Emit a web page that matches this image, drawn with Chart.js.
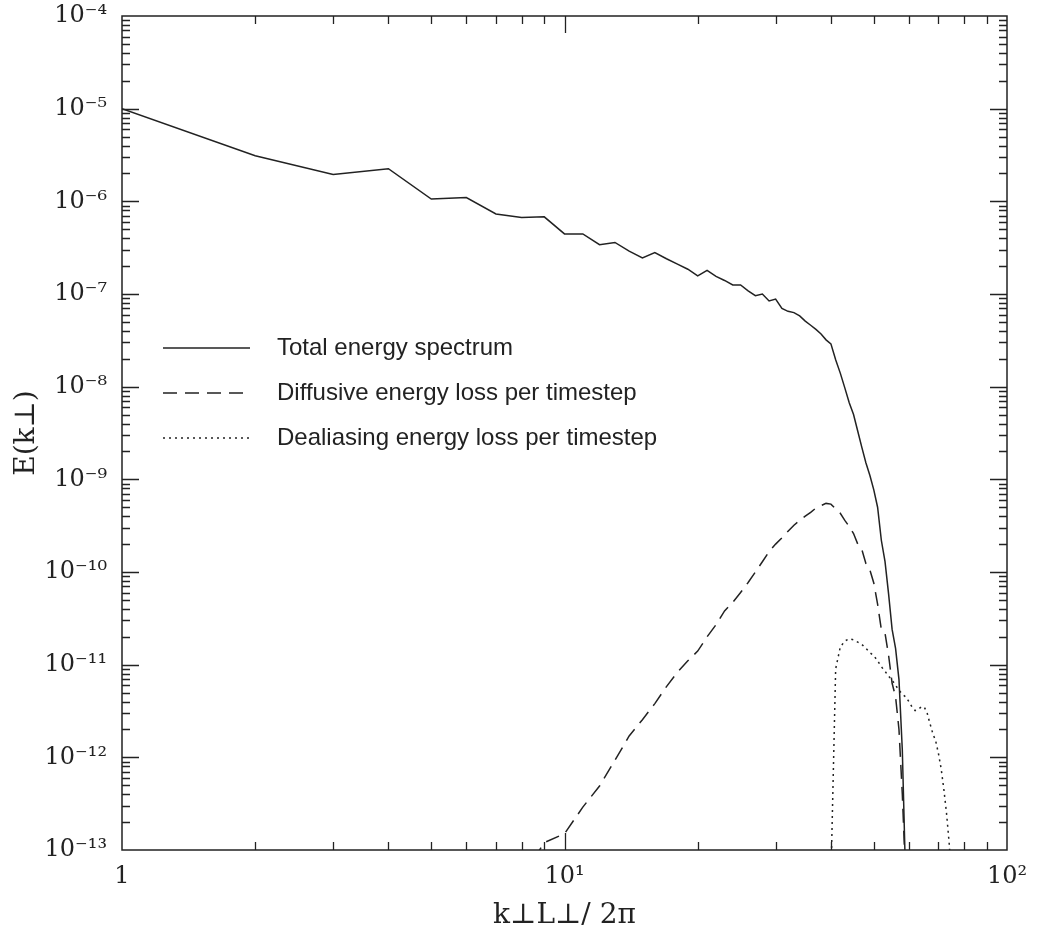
<!DOCTYPE html>
<html><head><meta charset="utf-8">
<script src="https://cdn.jsdelivr.net/npm/chart.js@4.4.1/dist/chart.umd.min.js"></script>
<style>html,body{margin:0;padding:0;background:#fff}#wrap{width:1038px;height:937px;position:relative}</style>
</head><body><div id="wrap"><canvas id="c"></canvas></div>
<script>
// ---- data ----
const kTotal = [1,2,3,4,5,6,7,8,9,10,11,12,13,14,15,16,17,18,19,20,21,22,23,24,25,26,27,28,29,30,31,32,33,34,35,36,37,38,39,40,41,42,43,44,45,46,47,48,49,50,51,52,53,54,55,56,57,58,59];
const eTotal = [1.0e-5,3.1e-6,1.95e-6,2.25e-6,1.06e-6,1.1e-6,7.3e-7,6.7e-7,6.8e-7,4.45e-7,4.45e-7,3.4e-7,3.6e-7,2.9e-7,2.45e-7,2.8e-7,2.4e-7,2.1e-7,1.85e-7,1.57e-7,1.8e-7,1.55e-7,1.4e-7,1.25e-7,1.25e-7,1.08e-7,9.6e-8,1.0e-7,8.4e-8,8.8e-8,7.0e-8,6.5e-8,6.3e-8,5.8e-8,5.1e-8,4.6e-8,4.15e-8,3.7e-8,3.2e-8,2.9e-8,1.95e-8,1.4e-8,9.7e-9,6.7e-9,5.0e-9,3.3e-9,2.2e-9,1.5e-9,1.1e-9,7.7e-10,5.0e-10,2.2e-10,1.3e-10,5.8e-11,2.4e-11,1.5e-11,6.9e-12,1.2e-12,5e-14];
const kDiffusive = [8,9,10,11,12,13,14,15,16,17,18,19,20,21,22,23,24,25,26,27,28,29,30,31,32,33,34,35,36,37,38,39,40,41,42,43,44,45,46,47,48,49,50,51,52,53,54,55,56,57,58,59];
const eDiffusive = [5e-14,1.2e-13,1.5e-13,2.9e-13,4.9e-13,9.3e-13,1.7e-12,2.55e-12,3.8e-12,5.8e-12,8.3e-12,1.1e-11,1.4e-11,2.0e-11,2.7e-11,3.8e-11,4.7e-11,6.0e-11,7.7e-11,1.0e-10,1.29e-10,1.66e-10,2.0e-10,2.34e-10,2.75e-10,3.2e-10,3.6e-10,4.0e-10,4.4e-10,4.9e-10,5.2e-10,5.5e-10,5.4e-10,4.8e-10,4.3e-10,3.6e-10,3.1e-10,2.6e-10,2.0e-10,1.74e-10,1.23e-10,1.05e-10,7.6e-11,4.5e-11,2.4e-11,2.2e-11,1.26e-11,6.3e-12,4.5e-12,2.0e-12,4.0e-13,5e-14];
const kDealias = [40,41,42,43,44,45,46,47,48,49,50,51,52,53,54,55,56,57,58,59,60,61,62,63,64,65,66,67,68,69,70,71,72,73,74,75];
const eDealias = [5e-14,9e-12,1.55e-11,1.8e-11,1.9e-11,1.85e-11,1.75e-11,1.65e-11,1.5e-11,1.35e-11,1.25e-11,1.1e-11,9.5e-12,8.5e-12,7.5e-12,6.8e-12,6.0e-12,5.3e-12,4.8e-12,4.5e-12,4.0e-12,3.5e-12,3.2e-12,3.3e-12,3.5e-12,3.5e-12,3.0e-12,2.3e-12,1.8e-12,1.5e-12,1.1e-12,7.5e-13,4.5e-13,2.5e-13,1.2e-13,5e-14];
const seriesNames = ['Total energy spectrum','Diffusive energy loss per timestep','Dealiasing energy loss per timestep'];
const xTickValues = [1,10,100];
const xTickLabels = ['1','10\u00b9','10\u00b2'];
const yTickExponents = [-13,-12,-11,-10,-9,-8,-7,-6,-5,-4];
const yTickLabels = ['10\u207b\u00b9\u00b3','10\u207b\u00b9\u00b2','10\u207b\u00b9\u00b9','10\u207b\u00b9\u2070','10\u207b\u2079','10\u207b\u2078','10\u207b\u2077','10\u207b\u2076','10\u207b\u2075','10\u207b\u2074'];
const xAxisTitle = 'k\u22a5L\u22a5/ 2\u03c0';
const yAxisTitle = 'E(k\u22a5)';

const INK = '#222';
const dashes = [[], [14,8], [2,4]];
const toPts = (ks, es) => ks.map((k,i) => ({x:k, y:es[i]}));
const zeroPad = s => { s.paddingTop = 0; s.paddingBottom = 0; s.paddingLeft = 0; s.paddingRight = 0; };

const frameTicks = {
  id: 'frameTicks',
  afterDatasetsDraw(chart) {
    const {ctx, chartArea: a, scales: {x, y}} = chart;
    ctx.save();
    ctx.strokeStyle = INK;
    ctx.lineWidth = 1.5;
    ctx.strokeRect(a.left, a.top, a.right - a.left, a.bottom - a.top);
    ctx.lineWidth = 1.3;
    ctx.beginPath();
    for (let e = 0; e <= 2; e++) for (let m = 1; m <= 9; m++) {
      const v = m * Math.pow(10, e);
      if (v <= x.min || v >= x.max) continue;
      const px = Math.round(x.getPixelForValue(v)) + 0.5, L = m === 1 ? 17 : 8;
      ctx.moveTo(px, a.bottom); ctx.lineTo(px, a.bottom - L);
      ctx.moveTo(px, a.top); ctx.lineTo(px, a.top + L);
    }
    for (let e = -13; e <= -4; e++) for (let m = 1; m <= 9; m++) {
      const v = m * Math.pow(10, e);
      if (v <= y.min * 1.0001 || v >= y.max * 0.9999) continue;
      const py = Math.round(y.getPixelForValue(v)) + 0.5, L = m === 1 ? 17 : 8;
      ctx.moveTo(a.left, py); ctx.lineTo(a.left + L, py);
      ctx.moveTo(a.right, py); ctx.lineTo(a.right - L, py);
    }
    ctx.stroke();
    // legend
    ctx.font = '24px "Liberation Sans", Arial, sans-serif';
    ctx.fillStyle = INK;
    ctx.textBaseline = 'middle';
    const rows = [348, 393, 438];
    chart.data.datasets.forEach((ds, i) => {
      ctx.beginPath();
      ctx.setLineDash(dashes[i]);
      ctx.lineWidth = 1.4;
      ctx.moveTo(163, rows[i]); ctx.lineTo(250, rows[i]);
      ctx.stroke();
      ctx.setLineDash([]);
      ctx.fillText(ds.label, 277, rows[i]);
    });
    ctx.restore();
  }
};

new Chart(document.getElementById('c'), {
  type: 'line',
  data: {
    datasets: [
      {label: seriesNames[0], data: toPts(kTotal, eTotal), borderDash: dashes[0]},
      {label: seriesNames[1], data: toPts(kDiffusive, eDiffusive), borderDash: dashes[1]},
      {label: seriesNames[2], data: toPts(kDealias, eDealias), borderDash: dashes[2]}
    ].map(d => Object.assign(d, {borderColor: INK, borderWidth: 1.5, pointRadius: 0, tension: 0, fill: false, clip: 0}))
  },
  options: {
    responsive: true, maintainAspectRatio: false, animation: false, devicePixelRatio: 1,
    layout: {padding: {left: 0, right: 31, top: 16, bottom: 0}},
    plugins: {legend: {display: false}, tooltip: {enabled: false}},
    scales: {
      x: {
        type: 'logarithmic', min: 1, max: 100,
        grid: {display: false, drawTicks: false}, border: {display: false},
        afterBuildTicks: s => { s.ticks = xTickValues.map(v => ({value: v})); },
        ticks: {autoSkip: false, maxRotation: 0, minRotation: 0, padding: 12, color: INK,
          font: {family: '"DejaVu Serif", serif', size: 24},
          callback: (v) => { const i = xTickValues.indexOf(v); return i < 0 ? '' : xTickLabels[i]; }},
        title: {display: true, text: xAxisTitle, color: INK, font: {family: '"DejaVu Serif", serif', size: 28}, padding: {top: 2, bottom: 4}},
        afterFit: s => { s.height = 87; zeroPad(s); }
      },
      y: {
        type: 'logarithmic', min: 1e-13, max: 1e-4,
        grid: {display: false, drawTicks: false}, border: {display: false},
        afterBuildTicks: s => { s.ticks = yTickExponents.map(e => ({value: Math.pow(10, e)})); },
        ticks: {autoSkip: false, padding: 15, color: INK,
          font: {family: '"DejaVu Serif", serif', size: 24},
          callback: (v) => { const e = Math.round(Math.log10(v)); const i = yTickExponents.indexOf(e); return i < 0 ? '' : yTickLabels[i]; }},
        title: {display: true, text: yAxisTitle, color: INK, font: {family: '"DejaVu Serif", serif', size: 28}, padding: {top: 10, bottom: 0}},
        afterFit: s => { s.width = 122; zeroPad(s); }
      }
    }
  },
  plugins: [frameTicks]
});
</script></body></html>
